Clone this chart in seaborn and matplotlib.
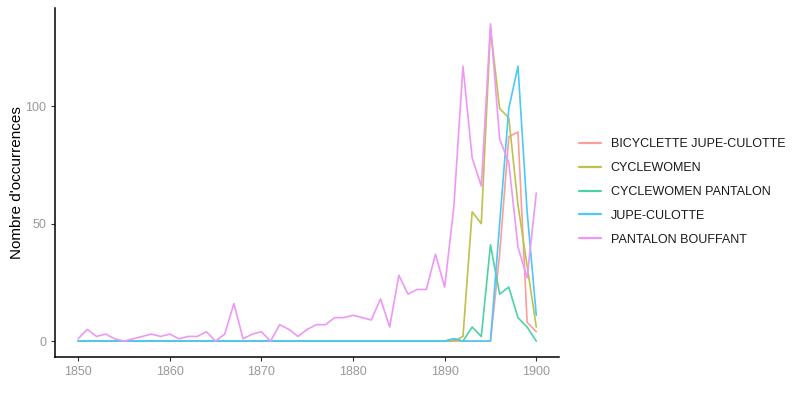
import matplotlib
matplotlib.use("Agg")
import matplotlib.pyplot as plt
import seaborn as sns
import pandas as pd
import numpy as np

years = list(range(1850, 1901))

pantalon_bouffant = [1, 5, 2, 3, 1, 0, 1, 2, 3, 2,
                     3, 1, 2, 2, 4, 0, 3, 16, 1, 3,
                     4, 0, 7, 5, 2, 5, 7, 7, 10, 10,
                     11, 10, 9, 18, 6, 28, 20, 22, 22, 37,
                     23, 57, 117, 78, 66, 135, 86, 76, 40, 27,
                     63]

# values for 1890..1900 (zero before)
cyclewomen_tail = [0, 0, 2, 55, 50, 133, 99, 95, 58, 32, 6]
cyclewomen_pantalon_tail = [0, 1, 0, 6, 2, 41, 20, 23, 10, 6, 0]
jupe_culotte_tail = [0, 1, 0, 0, 0, 0, 50, 99, 117, 55, 11]
bicyclette_jupe_culotte_tail = [0, 0, 0, 0, 0, 0, 37, 87, 89, 8, 4]

series_names = ["BICYCLETTE JUPE-CULOTTE", "CYCLEWOMEN", "CYCLEWOMEN PANTALON",
                "JUPE-CULOTTE", "PANTALON BOUFFANT"]
colors = ["#FA9F99", "#BFC04D", "#4DD2A4", "#4DC8F9", "#EE97F7"]

def pad(tail):
    return [0] * (len(years) - len(tail)) + tail

values = {
    "BICYCLETTE JUPE-CULOTTE": pad(bicyclette_jupe_culotte_tail),
    "CYCLEWOMEN": pad(cyclewomen_tail),
    "CYCLEWOMEN PANTALON": pad(cyclewomen_pantalon_tail),
    "JUPE-CULOTTE": pad(jupe_culotte_tail),
    "PANTALON BOUFFANT": pantalon_bouffant,
}

rows = []
for name in series_names:
    for y, v in zip(years, values[name]):
        rows.append({"annee": y, "n": v, "terme": name})
df = pd.DataFrame(rows)

sns.set_style("ticks")
plt.rcParams["font.family"] = ["Liberation Sans", "DejaVu Sans"]

fig = plt.figure(figsize=(8, 4), dpi=100)
ax = fig.add_axes([0.069, 0.1075, 0.630, 0.8725])

sns.lineplot(data=df, x="annee", y="n", hue="terme", hue_order=series_names,
             palette=dict(zip(series_names, colors)), linewidth=1.2,
             ax=ax, legend=True)

ax.set_xlim(1847.5, 1902.5)
ax.set_ylim(-6.75, 141.75)
ax.set_xticks([1850, 1860, 1870, 1880, 1890, 1900])
ax.set_yticks([0, 50, 100])
ax.set_xlabel("")
ax.set_ylabel("Nombre d'occurrences", fontsize=11, color="black", labelpad=1)
for s in ["top", "right"]:
    ax.spines[s].set_visible(False)
for s in ["left", "bottom"]:
    ax.spines[s].set_color("black")
    ax.spines[s].set_linewidth(1.1)
ax.tick_params(axis="both", colors="#333333", labelcolor="#999999",
               labelsize=9, length=3, width=0.8)

leg = ax.legend(loc="center left", bbox_to_anchor=(1.03, 0.473), frameon=False,
                fontsize=9, handlelength=1.7, labelspacing=0.95, borderaxespad=0)
for line in leg.get_lines():
    line.set_linewidth(1.6)
for t in leg.get_texts():
    t.set_color("#1a1a1a")

fig.savefig("out.png", dpi=100)
